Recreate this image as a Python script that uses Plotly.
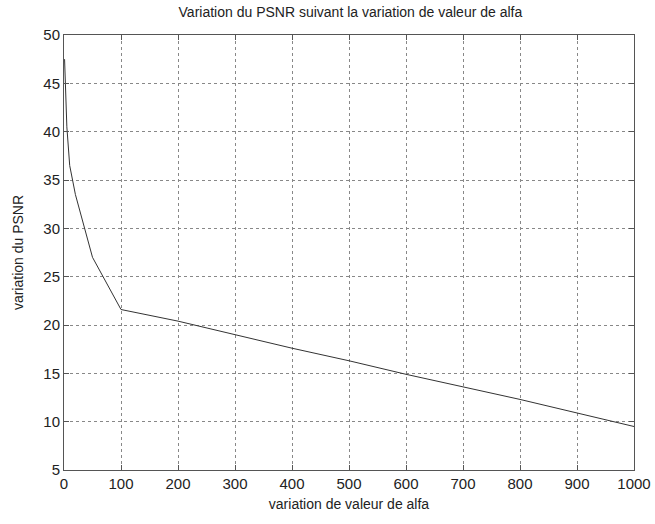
import plotly.graph_objects as go

alfa = [1, 5, 10, 20, 50, 100, 200, 300, 400, 500, 600, 700, 800, 900, 1000]
psnr = [47.5, 40.5, 36.5, 33.5, 27.0, 21.6, 20.4, 19.0, 17.6, 16.3, 14.9, 13.6, 12.3, 10.9, 9.5]

x_ticks = [0, 100, 200, 300, 400, 500, 600, 700, 800, 900, 1000]
y_ticks = [5, 10, 15, 20, 25, 30, 35, 40, 45, 50]

title_text = "Variation du PSNR suivant la variation de valeur de alfa"
x_title = "variation de valeur de alfa"
y_title = "variation du PSNR"

fig = go.Figure()
fig.add_trace(go.Scatter(x=alfa, y=psnr, mode="lines",
                         line=dict(color="#333333", width=1), showlegend=False))

font_family = "Liberation Sans, Arial, sans-serif"
axis_common = dict(
    showline=True, linecolor="#555555", linewidth=1, mirror="ticks",
    ticks="inside", ticklen=5, tickcolor="#555555", automargin=False,
    showgrid=True, gridcolor="#888888", griddash="dot", gridwidth=1,
    zeroline=False, tickfont=dict(family=font_family, size=15, color="#222222"),
)

fig.update_layout(
    width=655, height=524,
    margin=dict(l=64, r=21, t=35, b=54),
    paper_bgcolor="white", plot_bgcolor="white",
    title=dict(text=title_text, x=0.535, xanchor="center", y=0.977, yanchor="middle",
               font=dict(family=font_family, size=14, color="#222222")),
    xaxis=dict(range=[0, 1000], tickvals=x_ticks,
               title=dict(text=x_title, standoff=8,
                          font=dict(family=font_family, size=14, color="#222222")),
               **axis_common),
    yaxis=dict(range=[5, 50], tickvals=y_ticks,
               title=dict(text=y_title, standoff=16,
                          font=dict(family=font_family, size=14, color="#222222")),
               **axis_common),
)

fig.write_html("out.html")
